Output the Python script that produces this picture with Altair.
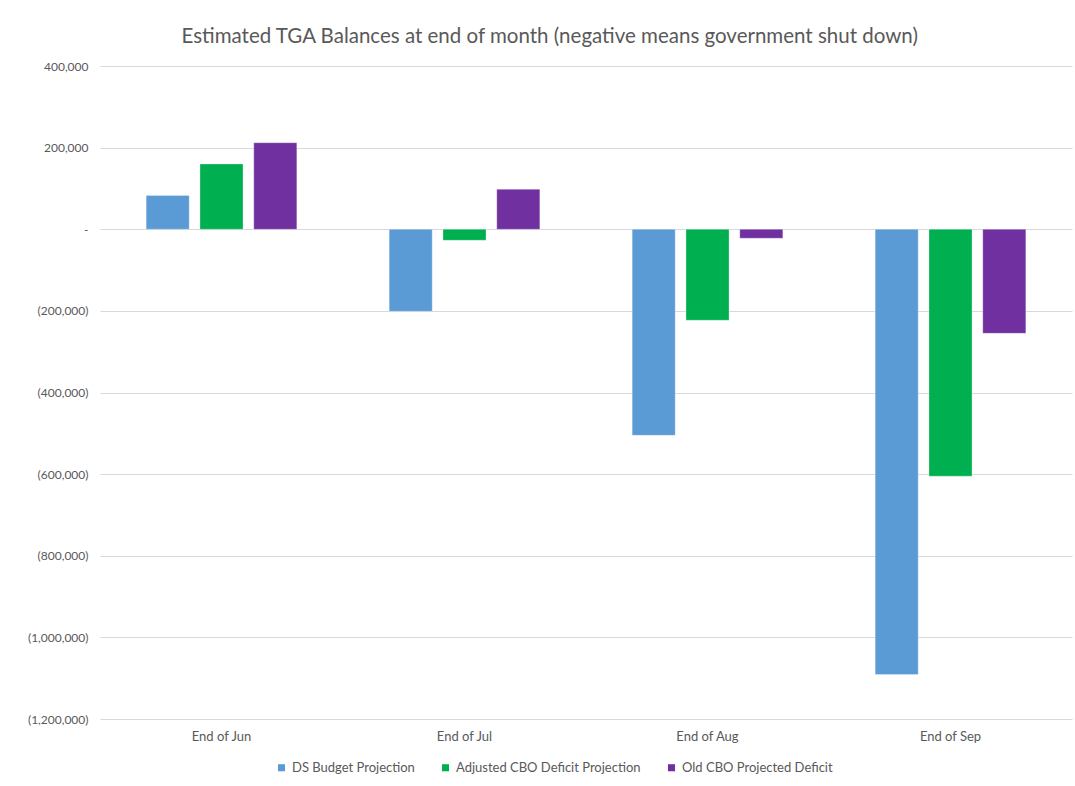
import altair as alt
import pandas as pd

categories = ["End of Jun", "End of Jul", "End of Aug", "End of Sep"]
series_names = ["DS Budget Projection", "Adjusted CBO Deficit Projection", "Old CBO Projected Deficit"]
ds_budget = [83000, -201000, -505000, -1091000]
adjusted_cbo = [160000, -27000, -223000, -605000]
old_cbo = [212000, 98000, -22000, -255000]
colors = ["#5B9BD5", "#00B050", "#7030A0"]
y_ticks = [400000, 200000, 0, -200000, -400000, -600000, -800000, -1000000, -1200000]

rows = []
for name, vals in zip(series_names, [ds_budget, adjusted_cbo, old_cbo]):
    for c, v in zip(categories, vals):
        rows.append({"Month": c, "Series": name, "Value": v})
df = pd.DataFrame(rows)

FONT = "Lato"
GREY = "#595959"

label_expr = (
    "datum.value == 0 ? '-\u2002\u2009' : "
    "(datum.value < 0 ? '(' + format(-datum.value, ',') + ')' : format(datum.value, ',') + '\u2009')"
)

chart = (
    alt.Chart(df)
    .mark_bar(stroke="white", strokeWidth=0.6, strokeOpacity=0.5)
    .encode(
        x=alt.X(
            "Month:N",
            sort=categories,
            title=None,
            scale=alt.Scale(paddingInner=0.38, paddingOuter=0.19),
            axis=alt.Axis(
                labelAngle=0,
                domain=False,
                ticks=False,
                grid=False,
                labelPadding=11,
                labelFont=FONT,
                labelFontSize=13,
                labelColor=GREY,
                orient="bottom",
            ),
        ),
        xOffset=alt.XOffset(
            "Series:N",
            sort=series_names,
            scale=alt.Scale(paddingInner=0.2, paddingOuter=0),
        ),
        y=alt.Y(
            "Value:Q",
            title=None,
            scale=alt.Scale(domain=[-1200000, 400000], nice=False),
            axis=alt.Axis(
                values=y_ticks,
                labelExpr=label_expr,
                domain=False,
                ticks=False,
                labelPadding=12,
                labelFont=FONT,
                labelFontSize=12,
                labelColor=GREY,
                gridColor="#D9D9D9",
                gridWidth=1,
            ),
        ),
        color=alt.Color(
            "Series:N",
            sort=series_names,
            scale=alt.Scale(domain=series_names, range=colors),
            legend=alt.Legend(
                title=None,
                orient="none",
                direction="horizontal",
                legendX=175,
                legendY=695,
                symbolType="square",
                symbolSize=50,
                symbolStrokeWidth=0,
                labelFont=FONT,
                labelFontSize=13,
                labelColor=GREY,
                labelLimit=400,
                columnPadding=24,
                labelOffset=4,
            ),
        ),
    )
    .properties(
        width=972,
        height=653,
        background="white",
        title=alt.TitleParams(
            "Estimated TGA Balances at end of month (negative means government shut down)",
            font=FONT,
            fontSize=20.5,
            fontWeight="normal",
            color=GREY,
            anchor="middle",
            frame="bounds",
            offset=13,
        ),
        autosize=alt.AutoSizeParams(type="none"),
        padding={"left": 100, "top": 66, "right": 3, "bottom": 67},
    )
    .configure_view(strokeWidth=0, stroke="transparent")
)

chart.save("out.html", embed_options={"renderer": "svg", "actions": False})
